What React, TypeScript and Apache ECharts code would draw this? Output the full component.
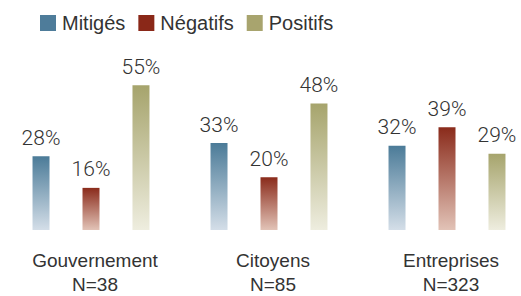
import React, { useEffect, useRef } from "react";
import * as echarts from "echarts";

const categories = ["Gouvernement\nN=38", "Citoyens\nN=85", "Entreprises\nN=323"];
const seriesNames = ["Mitigés", "Négatifs", "Positifs"];
const mitiges = [28, 33, 32];
const negatifs = [16, 20, 39];
const positifs = [55, 48, 29];

const topColors = ["#4b7b98", "#8a2b1b", "#a6a46c"];
const bottomColors = ["#d4dee8", "#e2c3b7", "#eeeddf"];
const legendColors = ["#4e7c9a", "#8a2818", "#a8a46e"];

export default function App() {
  const ref = useRef<HTMLDivElement>(null);
  useEffect(() => {
    document.body.style.margin = "0";
    document.body.style.overflow = "hidden";
    document.documentElement.style.overflow = "hidden";
    const chart = echarts.init(ref.current!, undefined, { renderer: "svg" });
    const values = [mitiges, negatifs, positifs];
    chart.setOption({
      animation: false,
      backgroundColor: "#ffffff",
      legend: {
        left: 40,
        top: 13,
        padding: 0,
        itemWidth: 16,
        itemHeight: 16,
        itemGap: 13,
        icon: "rect",
        textStyle: { fontFamily: "Liberation Sans, Arial, sans-serif", fontSize: 20, color: "#333333", padding: [0, 0, 0, 1] },
        data: seriesNames.map((n, i) => ({ name: n, itemStyle: { color: legendColors[i] } })),
      },
      grid: { left: 2, right: 0, top: 72, bottom: 62, containLabel: false },
      xAxis: {
        type: "category",
        data: categories,
        axisLine: { show: false },
        axisTick: { show: false },
        axisLabel: {
          margin: 18,
          fontFamily: "Liberation Sans, Arial, sans-serif",
          fontSize: 19,
          lineHeight: 24,
          color: "#333333",
          padding: [0, 0, 0, 8],
        },
      },
      yAxis: { type: "value", min: 0, max: 60, show: false, splitLine: { show: false } },
      series: seriesNames.map((name, i) => ({
        name,
        type: "bar",
        data: values[i],
        barWidth: 17,
        barGap: "194%",
        itemStyle: {
          color: new echarts.graphic.LinearGradient(0, 0, 0, 1, [
            { offset: 0, color: topColors[i] },
            { offset: 1, color: bottomColors[i] },
          ]),
        },
        label: {
          show: true,
          position: "top",
          distance: 8,
          formatter: "{c}%",
          fontFamily: "Roboto, sans-serif",
          fontWeight: 300,
          fontSize: 21,
          color: "#333333",
        },
      })),
    });
    return () => chart.dispose();
  }, []);
  return <div ref={ref} style={{ width: 536, height: 296 }} />;
}
